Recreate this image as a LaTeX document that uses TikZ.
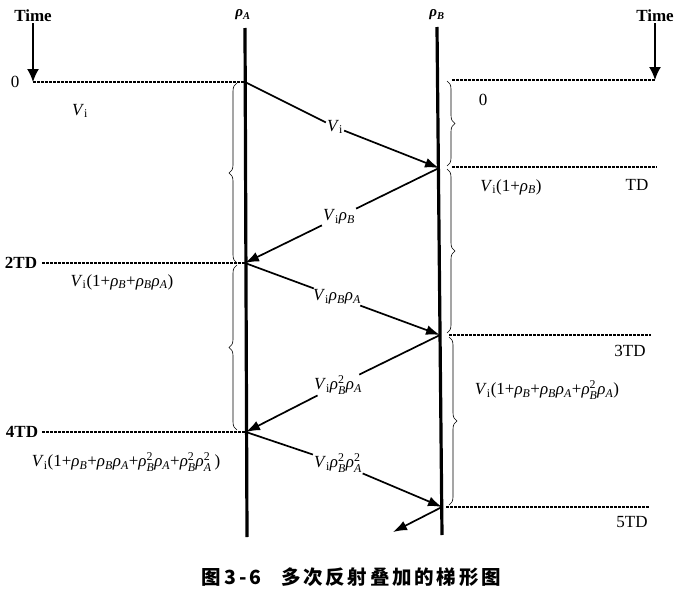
\documentclass[tikz,border=0pt]{standalone}
\usepackage{amsmath}
\usepackage{fontspec}
\setmainfont{Liberation Serif}
\newfontfamily\cjk{Noto Sans CJK SC}
\usetikzlibrary{arrows.meta,decorations.pathreplacing}
\newcommand\myV{\textit{V}$_{\text{i}}$}
\newcommand\myrho{\textit{ρ}}
\newcommand\rB{\myrho$_{\text{\itshape B}}$}
\newcommand\rA{\myrho$_{\text{\itshape A}}$}
\newcommand\rBB{\myrho$^{\text{2}}_{\text{\itshape B}}$}
\newcommand\rAA{\myrho$^{\text{2}}_{\text{\itshape A}}$}
\begin{document}
\begin{tikzpicture}[x=1pt,y=-1pt,
  wall/.style={line width=3.2pt},
  wave/.style={line width=1.7pt},
  wavearrow/.style={line width=1.7pt,-{Latex[length=14pt,width=10pt]}},
  timeline/.style={line width=1.2pt,dash pattern=on 2.5pt off 1.5pt},
  lab/.style={inner sep=1pt,font=\fontsize{17}{19}\selectfont},
  blab/.style={inner sep=1pt,font=\fontsize{17}{19}\selectfont\bfseries},
  brc/.style={decorate,decoration={brace,amplitude=8pt},line width=0.6pt},
  timearrow/.style={line width=1.6pt,-{Latex[length=13pt,width=12pt]}}]
\useasboundingbox (0,0) rectangle (681,605);
% walls
\coordinate (atop) at (245,28);
\coordinate (abot) at (247,537);
\coordinate (btop) at (437,27);
\coordinate (bbot) at (442,535);
\draw[wall] (atop) -- (abot);
\draw[wall] (btop) -- (bbot);
\node[lab,font=\fontsize{15}{17}\selectfont\bfseries] (rA) at (243,15) {\rA};
\node[lab,font=\fontsize{15}{17}\selectfont\bfseries] (rB) at (437,15) {\rB};
% event points
\coordinate (a0) at (245,82);
\coordinate (b1) at (439,168);
\coordinate (a2) at (245,263);
\coordinate (b3) at (440,335);
\coordinate (a4) at (246,432);
\coordinate (b5) at (442,507);
\coordinate (out) at (393,532);
% time axes
\node[blab] (tl) at (33,16) {Time};
\node[blab] (tr) at (655,16) {Time};
\coordinate (tl0) at (33,82);
\coordinate (tr0) at (655,80);
\draw[timearrow] (tl) -- (tl0);
\draw[timearrow] (tr) -- (tr0);
% dashed time lines
\coordinate (r0s) at (452,80);
\coordinate (r1s) at (452,167);
\coordinate (r1e) at (657,167);
\coordinate (l2s) at (42,263);
\coordinate (r3s) at (449,335);
\coordinate (r3e) at (651,335);
\coordinate (l4s) at (42,432);
\coordinate (r5s) at (446,507);
\coordinate (r5e) at (650,507);
\draw[timeline] (tl0) -- (a0);
\draw[timeline] (r0s) -- (tr0);
\draw[timeline] (r1s) -- (r1e);
\draw[timeline] (l2s) -- (a2);
\draw[timeline] (r3s) -- (r3e);
\draw[timeline] (l4s) -- (a4);
\draw[timeline] (r5s) -- (r5e);
% time labels
\node[lab] (t0) at (15,82) {0};
\node[lab] (t1) at (637,185) {TD};
\node[blab] (t2) at (21,263) {2TD};
\node[lab] (t3) at (630,351) {3TD};
\node[blab] (t4) at (22,432) {4TD};
\node[lab] (t5) at (632,522) {5TD};
% sums
\node[lab] (s0l) at (80,111) {\myV};
\node[lab] (s0r) at (483,100) {0};
\node[lab] (s1) at (511,187) {\myV(1+\rB)};
\node[lab] (s2) at (122,282) {\myV(1+\rB+\rB\rA)};
\node[lab] (s3) at (547,390) {\myV(1+\rB+\rB\rA+\rBB\rA)};
\node[lab] (s4) at (126,462) {\myV(1+\rB+\rB\rA+\rBB\rA+\rBB\rAA\,)};
% wave labels
\node[lab] (w1) at (335,127) {\myV};
\node[lab] (w2) at (339,217) {\myV\rB};
\node[lab] (w3) at (337,297) {\myV\rB\rA};
\node[lab] (w4) at (338,385) {\myV\rBB\rA};
\node[lab] (w5) at (338,463) {\myV\rBB\rAA};
% waves
\draw[wave] (a0) -- (w1);
\draw[wavearrow] (w1) -- (b1);
\draw[wave] (b1) -- (w2);
\draw[wavearrow] (w2) -- (a2);
\draw[wave] (a2) -- (w3);
\draw[wavearrow] (w3) -- (b3);
\draw[wave] (b3) -- (w4);
\draw[wavearrow] (w4) -- (a4);
\draw[wave] (a4) -- (w5);
\draw[wavearrow] (w5) -- (b5);
\draw[wavearrow] (b5) -- (out);
% braces
\draw[brc] (237,263) -- (237,83);
\draw[brc] (237,430) -- (237,265);
\draw[brc] (447,81) -- (447,166);
\draw[brc] (447,169) -- (447,333);
\draw[brc] (449,337) -- (449,505);
% caption
\node[font=\cjk\bfseries\fontsize{19.5}{21}\selectfont] (cap) at (351,577) {\addfontfeature{LetterSpace=14}图\hspace{4pt}3-6\hspace{20pt}多次反射叠加的梯形图};
\end{tikzpicture}
\end{document}
